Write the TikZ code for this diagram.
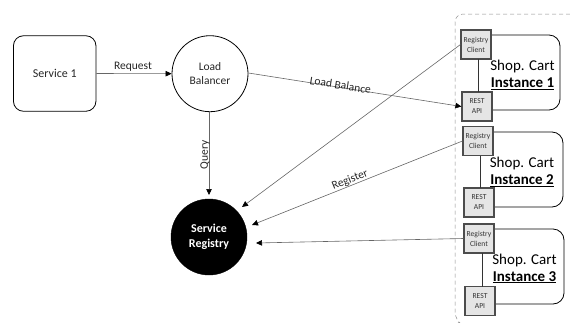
\documentclass[tikz,border=0pt]{standalone}
\usepackage{fontspec}
\setmainfont{Carlito}
\usetikzlibrary{arrows.meta}
\tikzset{
  svc/.style={draw=black,line width=0.8pt,rounded corners=10pt,inner sep=0pt,font=\fontsize{12}{14}\selectfont,text=black!85},
  circ/.style={circle,draw=black,line width=0.8pt,minimum size=76pt,inner sep=0pt,align=center,font=\fontsize{11.5}{14.5}\selectfont,text=black!85},
  regc/.style={circle,fill=black,draw=black,minimum size=76pt,inner sep=0pt,align=center,text=white,font=\fontsize{12}{15}\selectfont\bfseries},
  mini/.style={draw=black!70,line width=1.1pt,fill=black!10,minimum width=30pt,minimum height=29pt,inner sep=0pt,align=center,text=black!80,font=\fontsize{7.6}{10}\selectfont},
  inst/.style={draw=black,line width=0.8pt,rounded corners=11pt},
  stem/.style={draw=black!80,line width=0.8pt},
  lbl/.style={align=center,text=black,font=\fontsize{15}{17}\selectfont,inner sep=0pt},
  conn/.style={draw=black!60,line width=0.6pt,-{Triangle[length=6pt,width=5.5pt,fill=black,color=black]}},
  clbl/.style={inner sep=0pt,text=black!85,font=\fontsize{11.5}{13}\selectfont},
  group/.style={draw=black!45,line width=0.5pt,dash pattern=on 4pt off 3pt,rounded corners=8pt}
}
\begin{document}
\begin{tikzpicture}[x=1pt,y=-1pt]
\useasboundingbox (0,0) rectangle (570,322);
\draw[group] (570,14) -- (455,14) -- (455,320) -- (458,322);
\node[svc,minimum width=82.5pt,minimum height=75.5pt] (s1) at (54.7,73.5) {Service 1};
\node[circ] (lb) at (210,73.7) {Load\\Balancer};
\node[regc] (sr) at (209,237) {Service\\Registry};
% instance 1
\draw[inst] (490,35) -- (560,35) -- (560,110) -- (490,110);
\node[mini] (c1) at (476,44.5) {Registry\\Client};
\node[mini] (a1) at (477,106.5) {REST\\API};
\draw[stem] (478,59) -- (478,92);
\node[lbl] (t1) at (522.5,75) {Shop. Cart\\[0pt]\textbf{\underline{Instance 1}}};
% instance 2
\draw[inst] (492,132) -- (563,132) -- (563,207) -- (493,207);
\node[mini] (c2) at (478,141) {Registry\\Client};
\node[mini] (a2) at (479,202.5) {REST\\API};
\draw[stem] (480,155.5) -- (480,188);
\node[lbl] (t2) at (522,172) {Shop. Cart\\[0pt]\textbf{\underline{Instance 2}}};
% instance 3
\draw[inst] (493,229) -- (564,229) -- (564,304) -- (494,304);
\node[mini] (c3) at (479,238.5) {Registry\\Client};
\node[mini] (a3) at (480,301) {REST\\API};
\draw[stem] (482,253) -- (482,287);
\node[lbl] (t3) at (524.5,268.5) {Shop. Cart\\[0pt]\textbf{\underline{Instance 3}}};
% connectors
\coordinate (q) at (209,195);
\coordinate (t1r) at (242,207);
\coordinate (t2r) at (252,225);
\coordinate (t3r) at (256,243);
\coordinate (lbq) at (209,111.5);
\coordinate (lbe) at (248.5,73);
\draw[conn] (s1.east) -- (lb.west);
\draw[conn] (lbq) -- (q);
\draw[conn] (lbe) -- (a1.west);
\draw[conn] (c1.west) -- (t1r);
\draw[conn] (c2.west) -- (t2r);
\draw[conn] (c3.west) -- (t3r);
\node[clbl] (r) at (133,67) {Request};
\node[clbl,rotate=-9] (l) at (340.5,85) {Load Balance};
\node[clbl,rotate=22] (g) at (350,180) {Register};
\node[clbl,rotate=90] (y) at (205,155) {Query};
\end{tikzpicture}
\end{document}
